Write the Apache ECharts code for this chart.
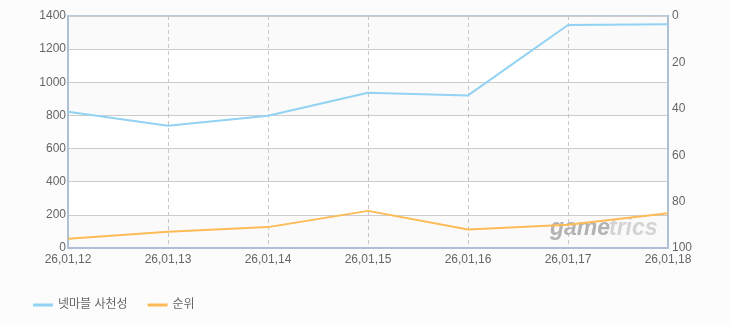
<!DOCTYPE html>
<html>
<head>
<meta charset="utf-8">
<script src="https://cdn.jsdelivr.net/npm/echarts@6/dist/echarts.min.js"></script>
<style>html,body{margin:0;padding:0;background:#fcfcfc;}#c{width:730px;height:325px;}</style>
</head>
<body>
<div id="c"></div>
<script>
var categories = ['26,01,12','26,01,13','26,01,14','26,01,15','26,01,16','26,01,17','26,01,18'];
var viewers = [822, 738, 798, 937, 921, 1346, 1350];
var ranks = [96, 93, 91, 84, 92, 90, 85];
var seriesNames = ['넷마블 사천성', '순위'];
var leftTicks = {min: 0, max: 1400, interval: 200};
var rightTicks = {min: 0, max: 100, interval: 20};

var font = 'Arial, "Liberation Sans", "Noto Sans CJK KR", sans-serif';
var border = '#adc0d5';
var chart = echarts.init(document.getElementById('c'));
chart.setOption({
  backgroundColor: '#fcfcfc',
  animation: false,
  grid: {left: 68, right: 62, top: 16, bottom: 77, show: true, borderColor: '#bccbdc', borderWidth: 2, backgroundColor: '#ffffff'},
  legend: {
    left: 28, top: 294, itemGap: 20, itemWidth: 20, itemHeight: 3,
    textStyle: {fontSize: 12, color: '#666', fontFamily: font},
    data: [{name: seriesNames[0], icon: 'rect'}, {name: seriesNames[1], icon: 'rect'}]
  },
  xAxis: {
    type: 'category', data: categories, boundaryGap: false,
    axisLine: {show: true, lineStyle: {color: border, width: 2}}, axisTick: {show: false},
    axisLabel: {color: '#666', fontSize: 12, fontFamily: font, margin: 6, showMinLabel: true, showMaxLabel: true, interval: 0},
    splitLine: {show: true, lineStyle: {color: '#c8c8c8', type: [4, 3], width: 1}}
  },
  yAxis: [{
    type: 'value', min: leftTicks.min, max: leftTicks.max, interval: leftTicks.interval,
    axisLine: {show: true, lineStyle: {color: border, width: 2}}, axisTick: {show: false},
    axisLabel: {color: '#666', fontSize: 12, fontFamily: font, margin: 2, formatter: function (v) { return String(v); }},
    splitLine: {lineStyle: {color: '#cccccc', width: 1}},
    splitArea: {show: true, areaStyle: {color: ['#fafafa', '#ffffff']}}
  }, {
    type: 'value', inverse: true, min: rightTicks.min, max: rightTicks.max, interval: rightTicks.interval,
    axisLine: {show: true, lineStyle: {color: border, width: 2}}, axisTick: {show: false},
    axisLabel: {color: '#666', fontSize: 12, fontFamily: font, margin: 4},
    splitLine: {show: false}
  }],
  graphic: [{
    type: 'text', left: 550, top: 217, z: 1,
    style: {text: 'game', font: 'italic bold 23px Arial, "Liberation Sans", sans-serif', fill: '#b3b3b3'}
  }, {
    type: 'text', left: 609, top: 217, z: 1,
    style: {text: 'trics', font: 'italic bold 23px Arial, "Liberation Sans", sans-serif', fill: '#d4d4d4'}
  }],
  series: [{
    name: seriesNames[0], type: 'line', yAxisIndex: 0, data: viewers,
    showSymbol: false, symbol: 'none', z: 3,
    lineStyle: {color: '#92d2f2', width: 2}, itemStyle: {color: '#92d2f2'}
  }, {
    name: seriesNames[1], type: 'line', yAxisIndex: 1, data: ranks,
    showSymbol: false, symbol: 'none', z: 3,
    lineStyle: {color: '#fdbb55', width: 2}, itemStyle: {color: '#fdbb55'}
  }]
});
</script>
</body>
</html>
